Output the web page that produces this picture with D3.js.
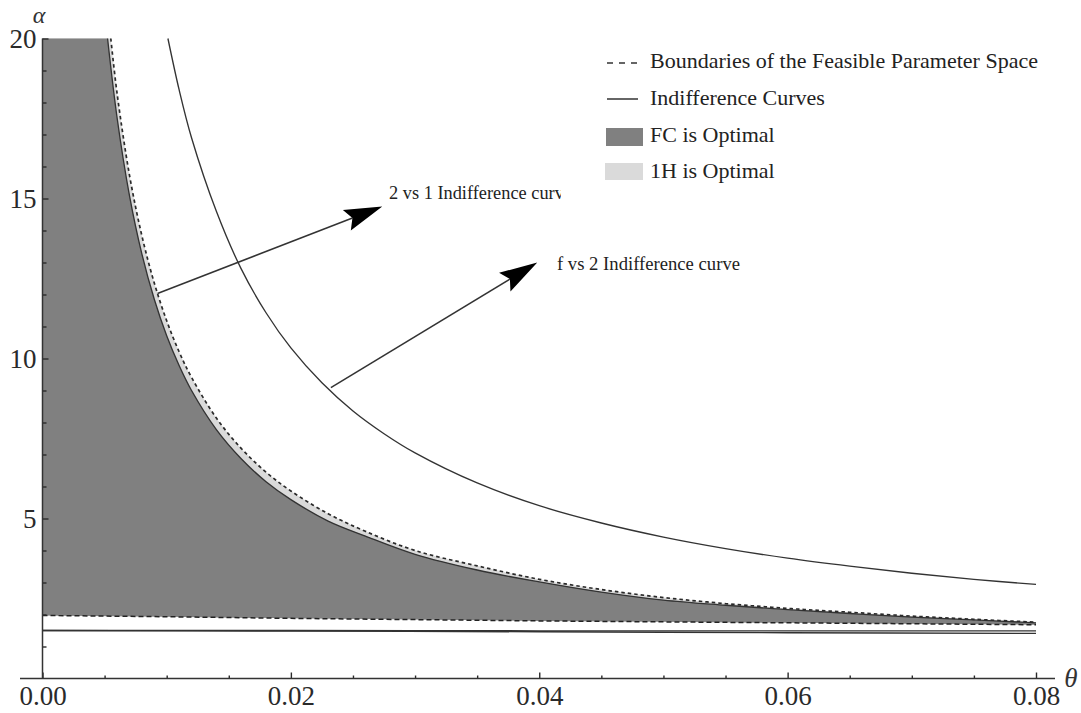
<!DOCTYPE html>
<html>
<head>
<meta charset="utf-8">
<script src="https://cdn.jsdelivr.net/npm/d3@7"></script>
<style>
  body { margin: 0; background: #fff; }
  svg { display: block; }
</style>
</head>
<body>
<svg id="chart" width="1081" height="713"></svg>
<script>
// ---- data: [theta, alpha] pairs ----
// lower boundary of the feasible parameter space (dashed)
const lowerBoundary = [[0,1.97],[0.01,1.93],[0.02,1.88],[0.03,1.84],[0.04,1.80],[0.05,1.77],[0.06,1.74],[0.07,1.71],[0.08,1.68]];
// upper boundary of the feasible parameter space (dashed)
const upperBoundary = [[0.0055,20.0],[0.006,18.3],[0.007,15.74],[0.008,13.84],[0.009,12.36],[0.010,11.18],[0.011,10.21],[0.012,9.41],[0.014,8.14],[0.016,7.19],[0.018,6.45],[0.020,5.86],[0.023,5.15],[0.026,4.6],[0.030,4.0],[0.035,3.52],[0.040,3.1],[0.045,2.78],[0.050,2.53],[0.055,2.34],[0.060,2.19],[0.065,2.07],[0.070,1.95],[0.075,1.85],[0.080,1.76]];
// "2 vs 1" indifference curve
const curve2vs1 = [[0.00524,20.0],[0.006,17.54],[0.007,15.1],[0.008,13.27],[0.009,11.85],[0.010,10.71],[0.011,9.78],[0.012,9.0],[0.014,7.78],[0.016,6.87],[0.018,6.15],[0.020,5.59],[0.023,4.92],[0.026,4.45],[0.030,3.88],[0.035,3.39],[0.040,3.02],[0.045,2.70],[0.050,2.45],[0.055,2.29],[0.060,2.15],[0.065,2.03],[0.070,1.92],[0.075,1.83],[0.080,1.74]];
// "f vs 2" indifference curve
const curveFvs2 = [[0.0101,20.0],[0.011,18.4],[0.012,16.9],[0.014,14.6],[0.016,12.8],[0.018,11.43],[0.020,10.33],[0.0225,9.24],[0.025,8.36],[0.0275,7.65],[0.030,7.05],[0.035,6.11],[0.040,5.40],[0.045,4.86],[0.050,4.42],[0.055,4.06],[0.060,3.76],[0.065,3.51],[0.070,3.29],[0.075,3.10],[0.080,2.94]];
// two low indifference curves
const lowCurveA = [[0,1.50],[0.02,1.50],[0.04,1.49],[0.06,1.49],[0.08,1.49]];
const lowCurveB = [[0,1.50],[0.02,1.48],[0.04,1.46],[0.06,1.43],[0.08,1.41]];

// axis ticks
const thetaMajor = [0, 0.02, 0.04, 0.06, 0.08];
const thetaLabels = ["0.00", "0.02", "0.04", "0.06", "0.08"];
const thetaMinor = [0.005,0.01,0.015,0.025,0.03,0.035,0.045,0.05,0.055,0.065,0.07,0.075];
const alphaMajor = [5, 10, 15, 20];
const alphaLabels = ["5", "10", "15", "20"];
const alphaMinor = [1,2,3,4,6,7,8,9,11,12,13,14,16,17,18,19];

// annotations: arrow start on curve -> arrow tip, with label
const annotations = [
  { from: [0.00926, 12.03], to: [0.02736, 14.75], text: "2 vs 1 Indifference curve", tx: 389, ty: 199, clipRight: 561 },
  { from: [0.02322, 9.09], to: [0.03984, 13.0], text: "f vs 2 Indifference curve", tx: 557, ty: 270, clipRight: null }
];

const legendLabels = ["Boundaries of the Feasible Parameter Space", "Indifference Curves", "FC is Optimal", "1H is Optimal"];

// ---- drawing ----
const serif = "'Liberation Serif','Times New Roman',serif";
const ink = "#333";
const darkFill = "#808080";
const lightFill = "#dadada";

const svg = d3.select("#chart");
const x = d3.scaleLinear().domain([0, 0.08]).range([42.5, 1036]);
const y = d3.scaleLinear().domain([0, 20]).range([678.5, 38.5]);

const smooth = d3.line().x(d => x(d[0])).y(d => y(d[1])).curve(d3.curveCatmullRom.alpha(0.5));
const straight = d3.line().x(d => x(d[0])).y(d => y(d[1]));

const lowerRev = straight(lowerBoundary.slice().reverse()).replace(/^M/, "L");
const topLeft = `M${x(0)},${y(20)}`;

// 1H optimal band (light), then FC optimal region (dark) on top of it
svg.append("path")
  .attr("d", topLeft + smooth(upperBoundary).replace(/^M/, "L") + lowerRev + "Z")
  .attr("fill", lightFill);
svg.append("path")
  .attr("d", topLeft + smooth(curve2vs1).replace(/^M/, "L") + lowerRev + "Z")
  .attr("fill", darkFill);

// indifference curves
[curve2vs1, curveFvs2, lowCurveA, lowCurveB].forEach(c => {
  svg.append("path").attr("d", smooth(c)).attr("fill", "none")
    .attr("stroke", ink).attr("stroke-width", 1.35);
});

// boundaries of the feasible parameter space
svg.append("path").attr("d", smooth(upperBoundary)).attr("fill", "none")
  .attr("stroke", "#2a2a2a").attr("stroke-width", 1.7).attr("stroke-dasharray", "3.5,3");
svg.append("path").attr("d", straight(lowerBoundary)).attr("fill", "none")
  .attr("stroke", "#222").attr("stroke-width", 1.5).attr("stroke-dasharray", "5,3");

// axes
function styleAxis(g) {
  g.select(".domain").remove();
  g.attr("color", "#2a2a2a").attr("font-family", serif).attr("font-size", 27);
  g.selectAll(".tick line").attr("stroke-width", 1.4);
}
svg.append("g").attr("transform", `translate(0,${y(0)})`)
  .call(d3.axisBottom(x).tickValues(thetaMinor).tickFormat("").tickSizeInner(-3).tickSizeOuter(0))
  .call(styleAxis);
svg.append("g").attr("transform", `translate(0,${y(0)})`)
  .call(d3.axisBottom(x).tickValues(thetaMajor).tickFormat((d, i) => thetaLabels[i]).tickSizeInner(-6).tickSizeOuter(0).tickPadding(7))
  .call(styleAxis);
svg.append("g").attr("transform", `translate(${x(0)},0)`)
  .call(d3.axisLeft(y).tickValues(alphaMinor).tickFormat("").tickSizeInner(-4).tickSizeOuter(0))
  .call(styleAxis);
svg.append("g").attr("transform", `translate(${x(0)},0)`)
  .call(d3.axisLeft(y).tickValues(alphaMajor).tickFormat((d, i) => alphaLabels[i]).tickSizeInner(-6).tickSizeOuter(0).tickPadding(6))
  .call(styleAxis);

svg.append("line").attr("x1", 20).attr("x2", 1055).attr("y1", y(0)).attr("y2", y(0))
  .attr("stroke", ink).attr("stroke-width", 1.5);
svg.append("line").attr("x1", x(0)).attr("x2", x(0)).attr("y1", y(0)).attr("y2", y(20))
  .attr("stroke", ink).attr("stroke-width", 1.5);

svg.append("text").attr("x", 39).attr("y", 23).attr("text-anchor", "middle")
  .attr("font-family", serif).attr("font-style", "italic").attr("font-size", 24).attr("fill", ink).text("α");
svg.append("text").attr("x", 1071).attr("y", 687).attr("text-anchor", "middle")
  .attr("font-family", serif).attr("font-style", "italic").attr("font-size", 27).attr("fill", ink).text("θ");

// arrows with labels
const defs = svg.append("defs");
annotations.forEach((a, i) => {
  const x0 = x(a.from[0]), y0 = y(a.from[1]);
  const x1 = x(a.to[0]), y1 = y(a.to[1]);
  const ang = Math.atan2(y1 - y0, x1 - x0);
  const c = Math.cos(ang), s = Math.sin(ang);
  const len = 38, half = 11, notch = 6;
  const bx = x1 - len * c, by = y1 - len * s;
  const px = -s * half, py = c * half;
  svg.append("line").attr("x1", x0).attr("y1", y0).attr("x2", bx + notch * c).attr("y2", by + notch * s)
    .attr("stroke", ink).attr("stroke-width", 1.5);
  svg.append("path")
    .attr("d", `M${x1},${y1}L${bx + px},${by + py}L${bx + notch * c},${by + notch * s}L${bx - px},${by - py}Z`)
    .attr("fill", "#000");
  const t = svg.append("text").attr("x", a.tx).attr("y", a.ty)
    .attr("font-family", serif).attr("font-size", 18.5).attr("fill", "#222")
    .attr("textLength", 183).attr("lengthAdjust", "spacingAndGlyphs")
    .text(a.text);
  if (a.clipRight) {
    defs.append("clipPath").attr("id", "clipLabel" + i)
      .append("rect").attr("x", a.tx - 5).attr("y", a.ty - 25).attr("width", a.clipRight - a.tx + 5).attr("height", 35);
    t.attr("clip-path", `url(#clipLabel${i})`);
  }
});

// legend
const lg = svg.append("g");
const rowBase = [68, 105, 142, 178];
lg.append("line").attr("x1", 607).attr("x2", 638).attr("y1", 63).attr("y2", 63)
  .attr("stroke", ink).attr("stroke-width", 1.7).attr("stroke-dasharray", "6,6");
lg.append("line").attr("x1", 607).attr("x2", 638).attr("y1", 99).attr("y2", 99)
  .attr("stroke", ink).attr("stroke-width", 1.5);
lg.append("rect").attr("x", 606).attr("y", 128).attr("width", 37).attr("height", 18).attr("fill", darkFill);
lg.append("rect").attr("x", 605).attr("y", 163).attr("width", 38).attr("height", 17).attr("fill", lightFill);
legendLabels.forEach((s, i) => {
  lg.append("text").attr("x", 650).attr("y", rowBase[i])
    .attr("font-family", serif).attr("font-size", 22).attr("fill", "#222").text(s);
});
</script>
</body>
</html>
